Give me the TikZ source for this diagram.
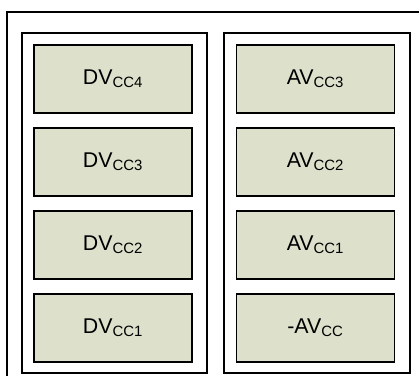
\documentclass[tikz,border=0pt]{standalone}
\usepackage{fontspec}
\setmainfont{Liberation Sans}
\usetikzlibrary{positioning}
\definecolor{cellfill}{RGB}{221,224,203}
\tikzset{
  frame/.style={draw=black,line width=1.1pt},
  cell/.style={draw=black,line width=1.4pt,fill=cellfill,
    minimum width=118.5pt,minimum height=51pt,inner sep=0pt,
    font=\fontsize{16}{19}\selectfont},
}

\begin{document}
\begin{tikzpicture}[x=0.75pt,y=-0.75pt]
  % 画布范围
  \useasboundingbox (0,0) rectangle (419,376);

  % 外框与两列框
  \draw[frame] (7,12) rectangle (425,382);
  \draw[frame] (22,33) rectangle (207,373);
  \draw[frame] (224,33) rectangle (410,373);

  % 左列
  \node[cell] (dv4) at (113,79)  {DV\textsubscript{CC4}};
  \node[cell] (dv3) at (113,162) {DV\textsubscript{CC3}};
  \node[cell] (dv2) at (113,245) {DV\textsubscript{CC2}};
  \node[cell] (dv1) at (113,328) {DV\textsubscript{CC1}};

  % 右列
  \node[cell] (av3) at (315.5,79)  {AV\textsubscript{CC3}};
  \node[cell] (av2) at (315.5,162) {AV\textsubscript{CC2}};
  \node[cell] (av1) at (315.5,245) {AV\textsubscript{CC1}};
  \node[cell] (avn) at (315.5,328) {-AV\textsubscript{CC}};
\end{tikzpicture}
\end{document}
